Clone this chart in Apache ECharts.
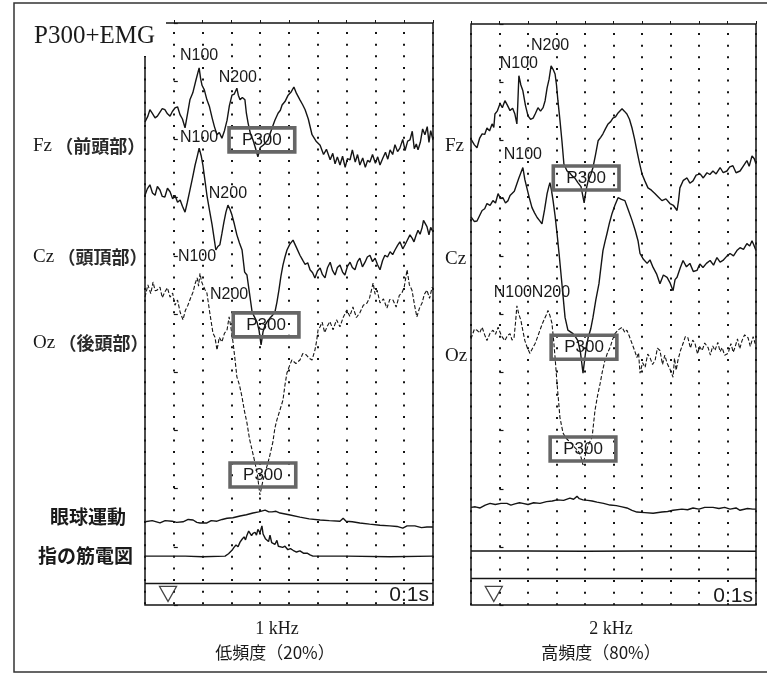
<!DOCTYPE html>
<html><head><meta charset="utf-8">
<script src="https://cdn.jsdelivr.net/npm/echarts@6/dist/echarts.min.js"></script>
<style>html,body{margin:0;padding:0;background:#fff}#c{width:767px;height:675px}</style>
</head><body><div id="c"></div>
<script>
// ---- axis definition ----
const timeMin = -100, timeMax = 900, timeStep = 100;   // ms, 0.1 s per division
const ampMin = 0, ampMax = 100, ampStep = 10;          // stacked display units (positive = down)
const channelNames = ['Fz', 'Cz', 'Oz', 'EOG', 'EMG'];

// ---- 1 kHz (low frequency, 20%) traces : [time ms, amplitude] ----
const fzLow = [[-100,0],[-90,-1.0],[-83,-2.1],[-75,-1.5],[-65,-0.7],[-57,-1.0],[-48,-1.7],[-40,-2.3],[-31,-2.1],[-22,-1.4],[-13,-1.0],[-5,-1.8],[4,-2.4],[13,-2.6],[22,-1.2],[30,-0.5],[39,1.0],[47,-1.2],[56,-3.8],[66,-5.0],[77,-7.2],[88,-9.3],[93,-7.5],[98,-6.3],[106,-5.5],[115,-3.8],[124,-2.6],[133,-0.7],[141,0.8],[150,2.2],[158,1.8],[167,2.8],[176,1.5],[185,-0.3],[193,-2.8],[202,-4.6],[210,-4.8],[219,-5.8],[224,-4.6],[230,-3.8],[238,-4.2],[247,-3.8],[252,-1.5],[258,0.2],[266,2.0],[275,3.1],[283,4.4],[292,6.0],[300,4.4],[310,4.0],[318,3.6],[327,3.1],[340,1.2],[351,-0.3],[362,-1.5],[370,-2.0],[376,-2.9],[386,-3.5],[397,-4.6],[408,-5.2],[417,-6.0],[426,-4.9],[438,-3.8],[447,-3.0],[456,-2.1],[467,-0.5],[480,2.2],[494,3.3],[508,4.0],[520,5.6],[530,4.7],[543,6.5],[552,5.4],[560,7.2],[568,6.0],[577,7.4],[586,5.9],[595,7.8],[603,6.3],[612,6.5],[620,4.8],[630,6.9],[638,5.6],[646,7.4],[656,6.2],[665,7.8],[673,6.6],[681,6.9],[690,5.6],[700,7.1],[708,6.0],[716,7.4],[726,6.2],[735,5.2],[743,6.4],[751,4.8],[760,5.6],[768,3.9],[777,5.1],[785,4.5],[795,3.0],[803,4.9],[812,3.3],[820,3.1],[828,1.6],[835,4.6],[842,3.8],[848,4.8],[856,3.5],[864,1.2],[872,2.2],[880,0.8],[886,3.5],[892,1.5],[900,3.1]];
const czLow = [[-100,-0.4],[-92,-1.5],[-83,-2.2],[-74,-0.8],[-65,-0.4],[-57,-1.9],[-48,-1.3],[-40,-0.2],[-31,-0.1],[-22,-1.6],[-13,-1.0],[-4,0.2],[4,-0.4],[13,0.8],[22,0.4],[30,1.5],[39,2.5],[47,0.8],[56,-1.3],[65,-3.4],[74,-5.6],[81,-7.0],[88,-8.5],[95,-7.2],[101,-5.6],[108,-3.0],[115,-0.4],[124,2.2],[133,4.7],[140,7.0],[146,9.0],[153,8.4],[160,8.1],[167,6.2],[174,4.2],[181,2.5],[188,1.3],[195,2.0],[202,3.0],[210,4.5],[219,6.4],[228,7.8],[237,9.0],[246,12.8],[254,13.3],[263,16.5],[272,19.7],[280,20.5],[289,21.4],[296,22.8],[303,25.3],[310,23.0],[317,21.9],[326,21.2],[334,20.7],[343,20.2],[351,19.7],[358,18.0],[365,15.9],[372,13.5],[379,11.6],[386,10.2],[393,9.0],[403,8.0],[414,7.3],[426,8.6],[438,9.9],[448,10.8],[456,11.5],[465,11.2],[473,12.4],[482,12.9],[490,13.8],[499,12.6],[508,12.1],[516,13.2],[525,13.8],[534,12.0],[543,11.1],[551,12.5],[560,13.3],[568,12.0],[577,11.6],[586,12.8],[594,13.3],[603,11.8],[612,11.1],[620,12.0],[629,12.4],[638,11.0],[646,10.4],[655,11.9],[664,11.1],[672,10.2],[681,9.9],[690,11.0],[699,10.4],[707,11.5],[716,12.4],[725,10.8],[733,9.9],[742,10.2],[751,9.3],[760,9.8],[768,9.0],[777,8.2],[785,7.6],[795,8.8],[803,8.1],[812,7.2],[820,6.4],[828,7.0],[834,7.6],[841,6.5],[848,5.6],[855,6.3],[862,5.2],[867,3.9],[872,4.2],[879,5.0],[886,6.4],[892,5.1],[900,5.9]];
const ozLow = [[-100,0.1],[-90,-2.0],[-80,-0.5],[-72,-2.5],[-65,-1.0],[-58,-1.1],[-48,-1.6],[-40,0.2],[-31,-0.8],[-22,-1.5],[-13,0.1],[-4,-0.6],[4,1.5],[13,0.6],[22,2.7],[32,4.0],[40,2.4],[49,1.5],[58,0.3],[67,-0.8],[74,-2.2],[81,-3.2],[86,-1.8],[91,-4.0],[96,-2.6],[101,-2.0],[108,-1.2],[115,-0.6],[125,2.8],[136,6.3],[143,7.0],[150,9.2],[158,7.0],[167,7.8],[176,6.3],[185,5.7],[192,3.5],[199,5.5],[206,8.0],[213,11.0],[219,13.8],[228,15.2],[237,17.3],[245,19.6],[254,21.7],[263,24.5],[272,26.4],[282,28.6],[290,30.5],[299,34.1],[310,31.5],[320,29.8],[332,27.6],[344,25.0],[351,22.6],[358,21.2],[368,19.6],[379,17.8],[386,15.2],[393,13.1],[401,12.0],[410,10.9],[424,11.5],[438,10.9],[448,9.8],[459,10.0],[470,10.6],[480,10.9],[490,9.2],[496,7.6],[501,5.7],[508,5.2],[515,4.4],[524,6.2],[532,5.2],[542,4.3],[553,5.7],[565,4.0],[577,5.2],[588,3.6],[601,2.3],[611,3.4],[622,1.8],[634,3.6],[646,2.8],[658,1.5],[671,1.1],[680,0.2],[692,-2.3],[699,-0.4],[706,-1.1],[716,1.1],[728,0.4],[740,2.0],[750,0.5],[761,0.6],[772,1.8],[783,-0.2],[792,-0.6],[800,-1.6],[810,-4.6],[818,-2.0],[827,-1.1],[836,1.5],[844,3.5],[853,2.0],[862,1.1],[870,-0.4],[879,-1.1],[888,0.3],[897,-1.6],[900,-1.4]];
const eogLow = [[-100,-0.3],[-75,-0.5],[-48,-0.1],[-30,-0.5],[-6,-0.4],[10,-0.2],[32,-0.3],[50,-0.7],[67,-0.6],[80,-0.2],[91,-0.1],[115,-0.1],[130,-0.5],[150,-0.4],[168,-0.7],[185,-0.9],[205,-1.0],[230,-1.3],[252,-1.5],[275,-1.8],[295,-2.0],[317,-2.3],[330,-2.0],[341,-2.0],[355,-2.1],[369,-1.8],[400,-1.5],[438,-1.1],[470,-0.8],[508,-0.6],[540,-0.5],[577,-0.4],[588,-0.9],[598,-0.4],[620,-0.3],[646,-0.1],[680,0.1],[716,0.3],[750,0.4],[775,0.5],[795,0.8],[810,0.4],[837,0.4],[860,0.7],[879,0.6],[900,0.6]];
const emgLow = [[-100,0],[40,0],[100,0.1],[178,0],[190,-0.4],[202,-1.0],[209,-1.5],[216,-1.9],[223,-1.6],[230,-2.4],[237,-2.9],[244,-3.3],[249,-2.8],[254,-3.6],[260,-4.3],[265,-4.5],[270,-3.5],[275,-3.9],[282,-4.1],[287,-3.6],[292,-4.6],[299,-4.0],[306,-5.2],[310,-3.8],[313,-4.1],[318,-3.0],[324,-3.3],[329,-2.5],[334,-3.6],[340,-2.3],[344,-2.4],[351,-2.0],[358,-2.7],[363,-1.7],[369,-1.9],[378,-1.5],[386,-1.7],[396,-1.1],[405,-1.3],[414,-1.0],[426,-0.7],[438,-0.9],[450,-0.5],[463,-0.5],[473,-0.2],[483,0],[600,0],[750,0.1],[900,0]];

// ---- 2 kHz (high frequency, 80%) traces ----
const fzHigh = [[-100,-0.2],[-96,-0.4],[-88,0.8],[-79,1.3],[-70,-0.3],[-61,-1.1],[-52,-1.0],[-44,-2.1],[-35,-1.6],[-26,-2.8],[-20,-2.2],[-16,-4.5],[-8,-5.0],[2,-6.3],[10,-5.6],[19,-6.8],[28,-6.0],[37,-5.1],[46,-5.5],[54,-4.5],[61,-2.8],[64,-6.0],[68,-11.1],[75,-9.5],[82,-8.5],[91,-6.0],[100,-4.2],[109,-3.6],[118,-3.8],[126,-4.6],[135,-5.6],[144,-5.0],[153,-5.6],[160,-6.8],[167,-9.0],[174,-10.5],[181,-12.8],[188,-12.2],[195,-11.4],[200,-9.5],[205,-6.8],[212,-3.5],[219,0.1],[226,4.1],[237,5.3],[246,5.6],[254,6.1],[264,6.5],[275,7.3],[286,8.0],[297,10.8],[304,8.5],[311,7.0],[320,6.0],[328,4.7],[337,2.5],[346,0.1],[355,-0.5],[363,-1.1],[372,-2.0],[381,-2.8],[390,-3.2],[398,-3.8],[407,-4.0],[416,-4.7],[423,-4.9],[430,-5.4],[438,-5.0],[447,-4.5],[456,-3.6],[465,-2.1],[474,-0.2],[482,1.8],[491,3.9],[500,5.8],[510,7.0],[521,8.2],[533,8.6],[546,9.2],[558,9.8],[570,10.4],[584,10.1],[598,10.9],[610,11.2],[623,12.1],[628,10.5],[633,8.2],[645,6.9],[658,6.5],[668,7.4],[679,7.0],[690,6.0],[704,5.8],[715,6.5],[728,5.6],[738,5.9],[749,5.3],[760,5.8],[774,4.7],[785,5.6],[798,5.3],[808,4.6],[819,4.4],[830,5.6],[844,5.3],[856,4.4],[868,3.5],[876,4.5],[886,2.7],[894,3.2],[900,4.1]];
const czHigh = [[-100,0.2],[-96,0.3],[-88,1.0],[-79,0.9],[-70,0.0],[-61,-0.9],[-52,-1.2],[-44,-2.1],[-33,-1.8],[-23,-2.6],[-14,-2.2],[-5,-3.8],[3,-3.0],[12,-3.1],[21,-2.2],[30,-2.6],[37,-3.5],[44,-3.8],[52,-4.2],[61,-5.5],[68,-6.5],[75,-6.8],[82,-8.3],[89,-6.2],[96,-4.8],[105,-3.0],[114,-1.4],[123,-0.5],[132,0.3],[140,0.8],[149,1.4],[158,-1.0],[167,-3.8],[173,-5.0],[177,-5.7],[182,-4.5],[188,-2.6],[195,0.0],[202,3.1],[209,6.5],[219,11.7],[230,17.5],[240,19.7],[249,20.0],[258,20.3],[266,20.8],[275,21.5],[284,23.5],[293,27.1],[302,23.5],[311,21.0],[320,19.5],[328,17.5],[338,14.5],[349,11.7],[356,8.8],[363,6.0],[370,4.5],[377,3.1],[386,1.2],[395,-0.4],[405,-1.8],[416,-3.1],[428,-2.8],[440,-2.6],[452,-1.0],[465,0.8],[476,2.5],[486,4.3],[493,6.5],[505,7.5],[518,8.2],[528,7.6],[539,8.9],[551,10.0],[563,11.7],[575,10.2],[588,10.6],[598,11.5],[609,12.9],[616,11.0],[623,10.6],[634,9.0],[644,7.7],[656,8.8],[668,8.2],[680,9.6],[693,9.4],[703,8.3],[714,8.9],[726,8.2],[739,7.7],[751,8.5],[763,7.2],[774,8.0],[784,7.7],[797,7.0],[809,6.5],[821,6.9],[833,6.0],[844,5.5],[856,5.8],[868,4.8],[878,5.2],[886,4.3],[892,5.0],[900,6.0]];
const ozHigh = [[-100,0.2],[-96,0.0],[-88,-1.5],[-79,-1.3],[-70,-0.8],[-61,-1.8],[-52,-0.5],[-44,0.5],[-33,-0.8],[-23,-1.3],[-14,-0.6],[-5,-1.8],[7,-0.3],[19,0.5],[28,-0.4],[37,-0.7],[44,0.4],[51,0.0],[56,-2.5],[61,-5.5],[68,-4.0],[75,-3.0],[82,-1.2],[89,0.5],[98,1.8],[107,2.7],[116,1.8],[125,1.0],[134,-0.2],[142,-1.3],[151,-2.5],[160,-3.5],[165,-4.0],[170,-4.7],[177,-3.8],[184,-2.5],[190,0.5],[195,3.4],[202,7.9],[207,10.8],[212,13.7],[218,15.2],[223,16.4],[232,17.2],[240,17.6],[249,18.0],[258,18.5],[266,19.0],[275,19.4],[284,20.2],[293,21.9],[302,20.0],[311,18.5],[318,17.8],[325,17.1],[335,12.5],[344,10.0],[353,7.9],[361,5.8],[370,3.9],[379,2.6],[388,1.7],[396,0.4],[405,-0.7],[418,-1.4],[430,-1.8],[440,-0.9],[447,-1.3],[456,-0.2],[465,1.0],[474,2.2],[482,3.4],[488,2.6],[493,6.1],[502,4.3],[511,5.1],[520,2.8],[528,3.4],[537,4.6],[546,3.9],[554,1.8],[563,2.2],[572,4.6],[580,3.0],[588,4.4],[598,5.4],[609,6.8],[614,3.5],[620,5.6],[626,3.9],[635,2.2],[644,1.0],[652,-0.2],[661,0.0],[670,1.8],[678,0.4],[686,1.0],[695,2.8],[702,1.5],[711,2.2],[720,0.9],[732,1.7],[740,3.0],[748,1.4],[756,2.2],[766,0.8],[774,2.4],[781,1.7],[790,3.0],[802,2.7],[812,1.0],[820,2.5],[826,1.7],[835,0.2],[843,1.9],[851,0.5],[860,-0.5],[872,0.0],[880,1.5],[890,-0.2],[897,1.0],[900,0.6]];
const eogHigh = [[-100,0.2],[-85,0.1],[-68,0.3],[-50,-0.2],[-33,-0.5],[-15,-0.3],[5,-0.5],[26,-0.5],[40,-0.2],[54,-0.4],[70,-0.6],[82,-0.5],[100,-0.3],[120,-0.6],[142,-0.5],[165,-0.8],[185,-0.9],[202,-1.1],[225,-1.0],[247,-1.4],[260,-1.2],[272,-1.7],[280,-1.3],[293,-1.1],[310,-1.0],[325,-0.9],[342,-0.7],[365,-0.5],[388,-0.2],[410,-0.1],[430,0.1],[447,0.3],[465,0.7],[482,1.0],[510,1.1],[539,1.2],[570,1.0],[590,0.9],[609,0.7],[640,0.5],[660,0.6],[679,0.3],[700,0.5],[720,0.2],[749,0.2],[770,0.4],[790,0.2],[809,0.5],[830,0.3],[844,0.7],[870,0.4],[889,0.5],[900,0.5]];
const emgHigh = [[-100,0],[100,0],[300,0.05],[500,0],[700,0],[900,0.05]];

// channel baselines in the stacked display
const offsetsLow = [17, 30, 47, 86, 91.6];
const offsetsHigh = [20, 33, 54, 83, 90.7];
const stripLineLow = 96.2, stripLineHigh = 95.4;   // top of time-scale strip
const stimulusTime = -20, stimulusLevel = 98.1;     // ▽ stimulus marker

// peak annotations: [channel, label, time ms]
const peaksLow = [['Fz','N100',88],['Fz','N200',219],['Fz','P300',292],['Cz','N100',88],['Cz','N200',188],['Cz','P300',303],['Oz','N100',91],['Oz','N200',192],['Oz','P300',299]];
const peaksHigh = [['Fz','N100',68],['Fz','N200',181],['Fz','P300',297],['Cz','N100',82],['Cz','P300',293],['Oz','N100',61],['Oz','N200',170],['Oz','P300',293]];
const labelShiftLow = [[0,-12],[1,-11],[4,-17],[0,-11],[0,-12],[5,-20],[-3,-17],[0,-22],[3,-20]];
const labelShiftHigh = [[0,-12],[-1,-20],[2,-25],[0,-13],[1,-26],[-4,-13],[3,-18],[0,-16]];

const panels = [
  {grid:{left:145, top:23, width:288, height:582}, traces:[fzLow,czLow,ozLow,eogLow,emgLow], offsets:offsetsLow, strip:stripLineLow, peaks:peaksLow, shifts:labelShiftLow},
  {grid:{left:471, top:24, width:285, height:581}, traces:[fzHigh,czHigh,ozHigh,eogHigh,emgHigh], offsets:offsetsHigh, strip:stripLineHigh, peaks:peaksHigh, shifts:labelShiftHigh}
];

const ink = '#151515';
const grids = [], xAxes = [], yAxes = [], series = [];
panels.forEach((p, pi) => {
  grids.push(Object.assign({show:true, borderColor:ink, borderWidth:1.5, backgroundColor:'transparent', containLabel:false, outerBoundsMode:'none'}, p.grid));
  xAxes.push({type:'value', gridIndex:pi, min:timeMin, max:timeMax, interval:timeStep,
    axisLine:{show:false}, axisLabel:{show:false},
    axisTick:{show:true, inside:true, length:3, lineStyle:{color:ink, width:1}},
    splitLine:{show:true, lineStyle:{color:ink, width:2, type:[2,9.64], dashOffset:-9}}});
  yAxes.push({type:'value', gridIndex:pi, min:ampMin, max:ampMax, interval:ampStep, inverse:true,
    axisLine:{show:false}, axisLabel:{show:false},
    axisTick:{show:true, inside:true, length:4, lineStyle:{color:ink, width:1.2}},
    splitLine:{show:false}});
  p.traces.forEach((tr, ci) => {
    const off = p.offsets[ci];
    const s = {type:'line', xAxisIndex:pi, yAxisIndex:pi, showSymbol:false, symbol:'none', animation:false, z:3,
      data: tr.map(d => [d[0], +(d[1] + off).toFixed(3)]),
      lineStyle:{color:ink, width: ci===2 ? 1.1 : 1.4, type: ci===2 ? [4,2] : 'solid'}};
    const marks = [];
    p.peaks.forEach((k, ki) => {
      if (k[0] !== channelNames[ci]) return;
      const pt = tr.find(d => d[0] === k[2]);
      const isBox = k[1] === 'P300';
      marks.push({coord:[k[2], pt[1] + off], value:k[1],
        label:{show:true, position:'inside', offset:p.shifts[ki], formatter:k[1],
          fontFamily:'"Liberation Sans", Arial, sans-serif', fontSize: isBox ? 17 : 16, color:'#1a1a1a',
          padding: isBox ? [4,13,3,13] : 0,
          borderColor: isBox ? '#666' : 'transparent', borderWidth: isBox ? 1.8 : 0,
          backgroundColor:'transparent'}});
    });
    if (marks.length) s.markPoint = {symbol:'circle', symbolSize:1, itemStyle:{color:'rgba(0,0,0,0)'}, silent:true, animation:false, data:marks};
    if (ci === 4) s.markLine = {symbol:'none', silent:true, animation:false, label:{show:false},
      lineStyle:{color:ink, width:1.3, type:'solid'}, data:[{yAxis:p.strip}]};
    series.push(s);
  });
  series.push({type:'scatter', xAxisIndex:pi, yAxisIndex:pi, data:[[stimulusTime, stimulusLevel]],
    symbol:'triangle', symbolRotate:180, symbolSize:[17,15], animation:false, z:4,
    itemStyle:{color:'#fff', borderColor:ink, borderWidth:1.3}});
});

const serif = '"Liberation Serif", "DejaVu Serif", serif';
const cjk = '"Noto Sans CJK JP", sans-serif';
function chanLabel(x, y, latin, jp) {
  return {type:'text', x:x, y:y, z:101, silent:true, style:{
    text: jp ? '{a|' + latin + '} {b|（' + jp + '）}' : '{a|' + latin + '}',
    verticalAlign:'middle',
    rich:{a:{fontFamily:serif, fontSize:19, fill:'#1a1a1a'}, b:{fontFamily:cjk, fontSize:18, fontWeight:'bold', fill:'#2a2a2a'}}}};
}
function plainText(x, y, text, fontFamily, fontSize, align, weight) {
  return {type:'text', x:x, y:y, z:101, silent:true, style:{text:text, fontFamily:fontFamily, fontSize:fontSize,
    fontWeight: weight || 'normal', fill:'#1a1a1a', align: align || 'left', verticalAlign:'middle'}};
}

const graphic = [
  {type:'rect', z:0, silent:true, shape:{x:14, y:3, width:780, height:669}, style:{fill:'none', stroke:'#333', lineWidth:1.5}},
  {type:'rect', z:100, silent:true, shape:{x:16, y:6, width:150, height:50}, style:{fill:'#fff'}},
  plainText(34, 36, 'P300+EMG', serif, 25),
  chanLabel(33, 146, 'Fz', '前頭部'),
  chanLabel(33, 257, 'Cz', '頭頂部'),
  chanLabel(33, 343, 'Oz', '後頭部'),
  plainText(50, 517, '眼球運動', cjk, 19, 'left', 'bold'),
  plainText(38, 556, '指の筋電図', cjk, 19, 'left', 'bold'),
  chanLabel(445, 146, 'Fz'),
  chanLabel(445, 259, 'Cz'),
  chanLabel(445, 356, 'Oz'),
  plainText(429, 595, '0.1s', '"Liberation Sans", Arial, sans-serif', 21, 'right'),
  plainText(753, 596, '0.1s', '"Liberation Sans", Arial, sans-serif', 21, 'right'),
  plainText(277, 629, '1 kHz', serif, 18, 'center'),
  plainText(275, 653, '低頻度（20%）', cjk, 17, 'center'),
  plainText(611, 629, '2 kHz', serif, 18, 'center'),
  plainText(601, 653, '高頻度（80%）', cjk, 17, 'center')
];

const chart = echarts.init(document.getElementById('c'), null, {renderer:'canvas'});
chart.setOption({animation:false, backgroundColor:'#fff', grid:grids, xAxis:xAxes, yAxis:yAxes, series:series, graphic:graphic});
</script></body></html>
